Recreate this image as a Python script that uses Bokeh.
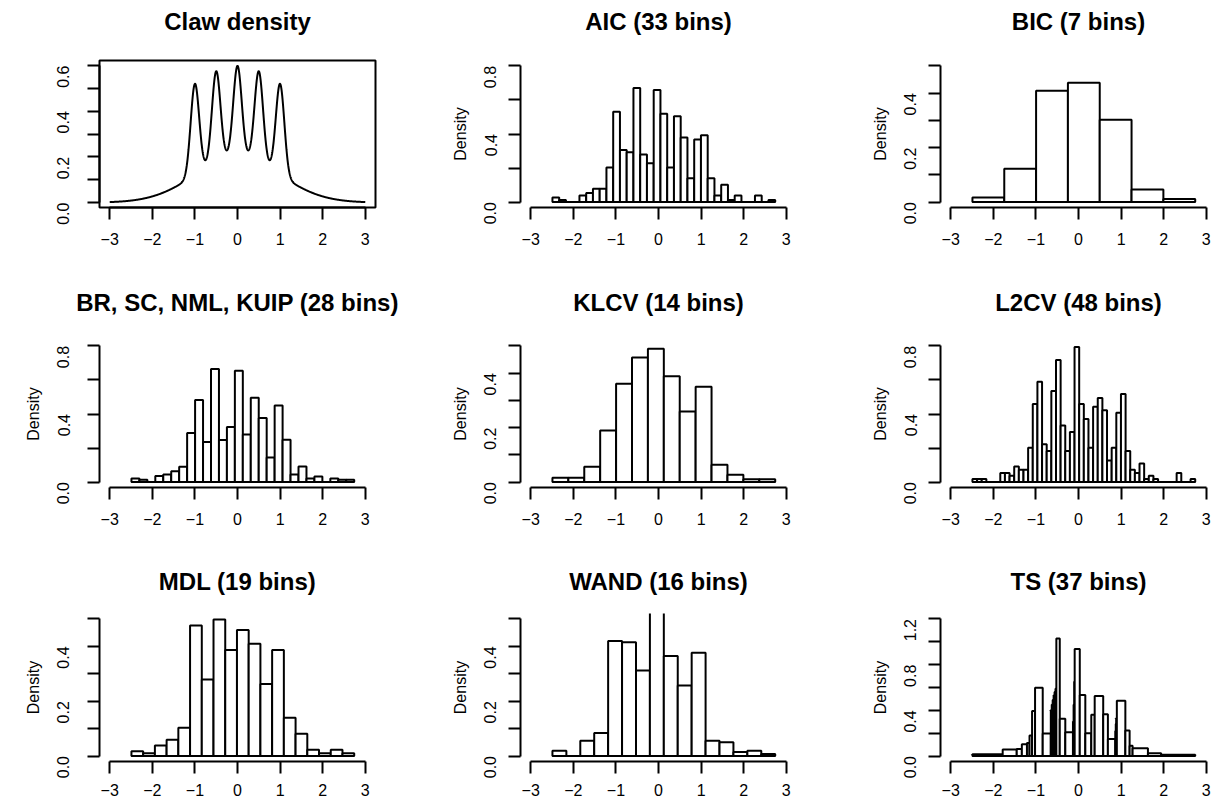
import numpy as np
from bokeh.plotting import figure
from bokeh.layouts import row, column
from bokeh.models import Range1d, FixedTicker, CustomJSTickFormatter, LinearAxis, Label
from bokeh.embed import file_html
from bokeh.resources import INLINE

FONT = "Liberation Sans"

# ---------------- data ----------------
x_ticks = [-3, -2, -1, 0, 1, 2, 3]
data_min, data_max = -2.49, 2.74

# claw density (Marron-Wand): mixture components
claw_weights = [0.5, 0.1, 0.1, 0.1, 0.1, 0.1]
claw_means = [0.0, -1.0, -0.5, 0.0, 0.5, 1.0]
claw_sds = [1.0, 0.1, 0.1, 0.1, 0.1, 0.1]

aic_density = [0.027, 0.012, 0, 0, 0.039, 0.053, 0.078, 0.078, 0.203, 0.531, 0.306,
               0.293, 0.671, 0.279, 0.228, 0.658, 0.519, 0.203, 0.505, 0.379, 0.140,
               0.367, 0.392, 0.140, 0.039, 0.101, 0.012, 0.039, 0, 0, 0.039, 0, 0.012]
bic_density = [0.017, 0.122, 0.409, 0.438, 0.302, 0.046, 0.011]
br_density = [0.021, 0.014, 0, 0.035, 0.045, 0.064, 0.090, 0.288, 0.483, 0.236, 0.664,
              0.247, 0.323, 0.654, 0.280, 0.495, 0.376, 0.144, 0.450, 0.249, 0.045,
              0.092, 0.021, 0.033, 0, 0.021, 0.014, 0.014]
klcv_density = [0.016, 0.016, 0.056, 0.189, 0.361, 0.458, 0.490, 0.389, 0.259, 0.350,
                0.064, 0.027, 0.010, 0.010]
l2cv_density = [0.018, 0.018, 0.018, 0, 0, 0, 0.053, 0.053, 0.037, 0.091, 0.072, 0.072,
                0.202, 0.459, 0.590, 0.222, 0.183, 0.535, 0.718, 0.333, 0.183, 0.294,
                0.794, 0.459, 0.370, 0.202, 0.442, 0.494, 0.422, 0.127, 0.202, 0.407,
                0.518, 0.183, 0.072, 0.053, 0.109, 0.018, 0.037, 0.018, 0, 0, 0, 0,
                0.053, 0, 0, 0.018]
mdl_density = [0.017, 0.0097, 0.038, 0.059, 0.103, 0.476, 0.279, 0.498, 0.387, 0.460,
               0.410, 0.263, 0.387, 0.140, 0.081, 0.023, 0.0097, 0.023, 0.0097]
wand_density = [0.0195, 0, 0.056, 0.084, 0.420, 0.415, 0.312, 0.56, 0.365, 0.257,
                0.377, 0.056, 0.050, 0.0146, 0.0195, 0.0073]
ts_breaks = [-2.49, -1.78, -1.45, -1.33, -1.21, -1.15, -1.09, -1.02, -0.84, -0.65,
             -0.628, -0.606, -0.584, -0.562, -0.54, -0.52, -0.44, -0.31, -0.13, -0.115,
             -0.10, -0.09, 0.03, 0.16, 0.30, 0.38, 0.58, 0.69, 0.865, 0.875, 0.885,
             0.90, 1.10, 1.20, 1.27, 1.63, 1.94, 2.74]
ts_density = [0.015, 0.056, 0.062, 0.103, 0.115, 0.179, 0.394, 0.597, 0.197,
              0.40, 0.45, 0.49, 0.53, 0.56, 0.59, 1.03, 0.326, 0.209, 0.30, 0.45, 0.65,
              0.938, 0.535, 0.20, 0.362, 0.526, 0.365, 0.15, 0.22, 0.28, 0.33, 0.485,
              0.224, 0.091, 0.068, 0.024, 0.012]

titles = ["Claw density", "AIC (33 bins)", "BIC (7 bins)",
          "BR, SC, NML, KUIP (28 bins)", "KLCV (14 bins)", "L2CV (48 bins)",
          "MDL (19 bins)", "WAND (16 bins)", "TS (37 bins)"]
y_max = [0.6, 0.8, 0.5, 0.8, 0.5, 0.8, 0.5, 0.5, 1.2]
y_ticks_list = [[0, 0.1, 0.2, 0.3, 0.4, 0.5, 0.6], [0, 0.2, 0.4, 0.6, 0.8],
                [0, 0.1, 0.2, 0.3, 0.4, 0.5], [0, 0.2, 0.4, 0.6, 0.8],
                [0, 0.1, 0.2, 0.3, 0.4, 0.5], [0, 0.2, 0.4, 0.6, 0.8],
                [0, 0.1, 0.2, 0.3, 0.4, 0.5], [0, 0.1, 0.2, 0.3, 0.4, 0.5],
                [0, 0.2, 0.4, 0.6, 0.8, 1.0, 1.2]]
y_labels_list = [[0, 0.2, 0.4, 0.6], [0, 0.4, 0.8], [0, 0.2, 0.4], [0, 0.4, 0.8],
                 [0, 0.2, 0.4], [0, 0.4, 0.8], [0, 0.2, 0.4], [0, 0.2, 0.4],
                 [0, 0.4, 0.8, 1.2]]

# ---------------- layout geometry (pixels) ----------------
COLS = [dict(w=420, bl=99, br=45, xr=(-3.24, 3.24), ls=24),
        dict(w=420, bl=100, br=44, xr=(-3.24, 3.24), ls=18),
        dict(w=371, bl=100, br=1, xr=(-3.24, 3.099), ls=18)]
# th: title strip height, tb: title baseline from strip top
ROWS = [dict(th=45, tb=21.0, h=235, bt=15, bb=73, xs=13),
        dict(th=45, tb=21.5, h=235, bt=15, bb=73, xs=13),
        dict(th=45, tb=21.3, h=202, bt=8, bb=46, xs=10)]

LABEL_SIZE = "16px"


def style_axis(ax):
    ax.axis_line_width = 2
    ax.axis_line_color = "black"
    ax.major_tick_line_width = 2
    ax.major_tick_line_color = "black"
    ax.major_tick_out = 12
    ax.major_tick_in = 0
    ax.minor_tick_out = 0
    ax.minor_tick_in = 0
    ax.minor_tick_line_color = None
    ax.major_label_text_font = FONT
    ax.major_label_text_font_size = LABEL_SIZE
    ax.major_label_text_color = "black"


def make_title(i):
    c = COLS[i % 3]
    r = ROWS[i // 3]
    frame_w = c["w"] - c["bl"] - c["br"]
    center_px = c["bl"] + (0 - c["xr"][0]) / (c["xr"][1] - c["xr"][0]) * frame_w
    t = figure(width=c["w"], height=r["th"], x_range=Range1d(-center_px, c["w"] - center_px),
               y_range=Range1d(0, r["th"]), output_backend="svg", toolbar_location=None,
               x_axis_location=None, y_axis_location=None, frame_align=False,
               min_border_left=0, min_border_right=0, min_border_top=0, min_border_bottom=0)
    t.xgrid.visible = False
    t.ygrid.visible = False
    t.outline_line_color = None
    t.background_fill_color = "white"
    t.border_fill_color = "white"
    t.add_layout(Label(x=0, y=r["th"] - r["tb"], text=titles[i],
                       text_font=FONT, text_font_size="24px", text_font_style="bold",
                       text_color="black", text_align="center", text_baseline="alphabetic"))
    return t


def make_panel(i):
    c = COLS[i % 3]
    r = ROWS[i // 3]
    ymax = y_max[i]
    if i == 0:
        yr = (-0.0216, 0.622)
    else:
        yr = (-0.04 * ymax, 1.04 * ymax)
    p = figure(width=c["w"], height=r["h"], x_range=Range1d(*c["xr"]), y_range=Range1d(*yr),
               output_backend="svg", toolbar_location=None, frame_align=False,
               x_axis_location=None, y_axis_location=None,
               min_border_left=c["bl"], min_border_right=c["br"],
               min_border_top=r["bt"], min_border_bottom=r["bb"])
    p.background_fill_color = "white"
    p.border_fill_color = "white"
    p.xgrid.visible = False
    p.ygrid.visible = False
    p.outline_line_color = "black" if i == 0 else None
    p.outline_line_width = 2

    xax = LinearAxis(ticker=FixedTicker(ticks=x_ticks),
                     formatter=CustomJSTickFormatter(
                         code="return tick < 0 ? '\u2212' + Math.abs(tick).toString() : tick.toString();"))
    style_axis(xax)
    xax.bounds = (x_ticks[0], x_ticks[-1])
    xax.major_label_standoff = r["xs"]
    p.add_layout(xax, "below")

    yax = LinearAxis(ticker=FixedTicker(ticks=y_ticks_list[i]),
                     formatter=CustomJSTickFormatter(
                         args=dict(shown=y_labels_list[i]),
                         code="for (const v of shown) { if (Math.abs(v - tick) < 1e-6) return tick.toFixed(1); } return '';"))
    style_axis(yax)
    yax.bounds = (0, ymax)
    yax.major_label_orientation = np.pi / 2
    yax.major_label_standoff = c["ls"]
    if i > 0:
        yax.axis_label = "Density"
        yax.axis_label_text_font = FONT
        yax.axis_label_text_font_size = LABEL_SIZE
        yax.axis_label_text_font_style = "normal"
        yax.axis_label_text_color = "black"
        yax.axis_label_standoff = 7
    p.add_layout(yax, "left")
    return p


def add_hist(p, edges, dens):
    edges = np.asarray(edges, dtype=float)
    p.segment(x0=[edges[0]], x1=[edges[-1]], y0=[0], y1=[0], line_color="black", line_width=2)
    p.quad(left=edges[:-1], right=edges[1:], bottom=0, top=dens,
           fill_color="white", line_color="black", line_width=2)


figs = [make_panel(i) for i in range(9)]
tfigs = [make_title(i) for i in range(9)]

# claw density curve
xg = np.linspace(-3, 3, 1201)
yg = np.zeros_like(xg)
for w, m, s in zip(claw_weights, claw_means, claw_sds):
    yg += w * np.exp(-0.5 * ((xg - m) / s) ** 2) / (s * np.sqrt(2 * np.pi))
figs[0].line(xg, yg, line_color="black", line_width=2)

hists = [aic_density, bic_density, br_density, klcv_density, l2cv_density,
         mdl_density, wand_density]
for k, dens in enumerate(hists):
    edges = np.linspace(data_min, data_max, len(dens) + 1)
    add_hist(figs[k + 1], edges, dens)
add_hist(figs[8], ts_breaks, ts_density)

cells = [column(tfigs[i], figs[i], spacing=0) for i in range(9)]
layout = column(row(*cells[0:3], spacing=0), row(*cells[3:6], spacing=0),
                row(*cells[6:9], spacing=0), spacing=0)

open("out.html", "w").write(file_html(layout, INLINE))
